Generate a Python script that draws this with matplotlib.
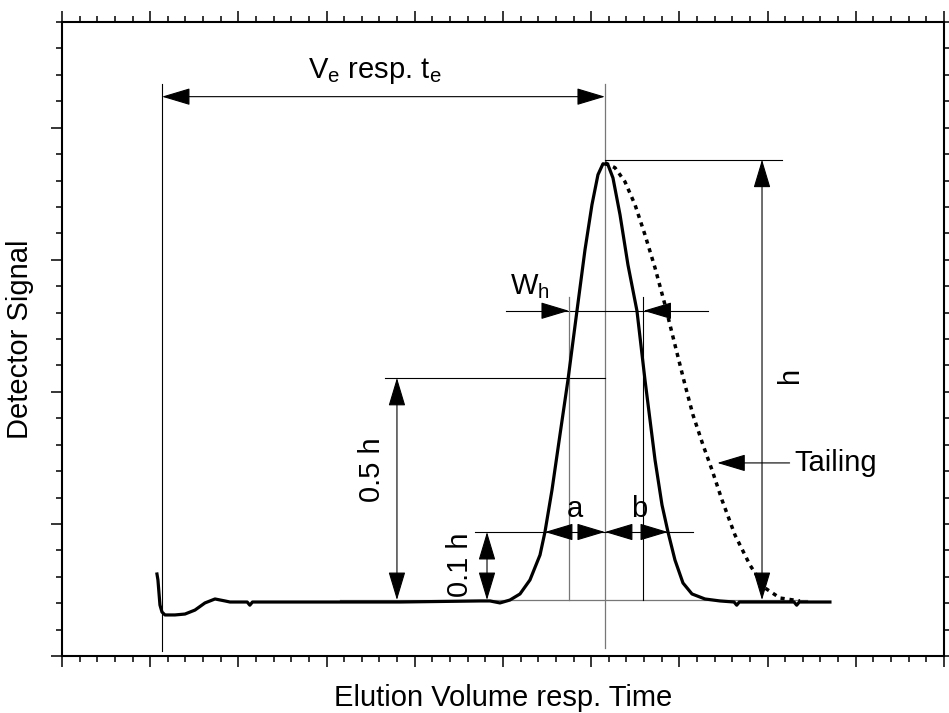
import matplotlib.pyplot as plt
from matplotlib.ticker import MultipleLocator

plt.rcParams['font.family'] = ['Liberation Sans', 'DejaVu Sans']

# measured chromatogram (solid) - x: elution volume, y: detector signal
peak_x = [1.077, 1.088, 1.111, 1.134, 1.168, 1.281, 1.395, 1.508, 1.621, 1.735,
          1.848, 1.905, 2.018, 2.10, 2.13, 2.16, 2.698, 3.832, 4.739, 4.853,
          4.966, 5.079, 5.193, 5.306, 5.420, 5.476, 5.556, 5.646, 5.737, 5.839,
          5.930, 6.009, 6.077, 6.134, 6.190, 6.247, 6.327, 6.417, 6.519, 6.610,
          6.724, 6.803, 6.871, 6.950, 7.041, 7.143, 7.290, 7.460, 7.62, 7.65,
          7.68, 7.914, 8.30, 8.33, 8.36, 8.707]
peak_y = [0.621, 0.576, 0.386, 0.333, 0.311, 0.311, 0.318, 0.348, 0.402, 0.432,
          0.417, 0.409, 0.409, 0.409, 0.385, 0.409, 0.409, 0.409, 0.417, 0.417,
          0.402, 0.424, 0.470, 0.576, 0.765, 0.939, 1.258, 1.674, 2.091, 2.614,
          3.076, 3.417, 3.644, 3.727, 3.720, 3.620, 3.341, 2.962, 2.614, 2.091,
          1.485, 1.144, 0.939, 0.727, 0.553, 0.470, 0.432, 0.417, 0.409, 0.385,
          0.409, 0.409, 0.409, 0.385, 0.409, 0.409]

# tailing peak (dotted)
tail_x = [6.156, 6.270, 6.383, 6.497, 6.610, 6.724, 6.837, 6.950, 7.064, 7.154,
          7.268, 7.370, 7.483, 7.630, 7.800, 7.971, 8.141, 8.367]
tail_y = [3.735, 3.697, 3.591, 3.417, 3.189, 2.939, 2.659, 2.356, 2.053, 1.826,
          1.598, 1.409, 1.182, 0.917, 0.689, 0.515, 0.439, 0.417]

# characteristic positions
x_start = 1.134
x_peak = 6.156
y_base = 0.424
y_top = 3.758
y_half = 2.106
y_tenth = 0.939
x_wh_left, x_wh_right = 5.748, 6.593
x_a_left, x_b_right = 5.476, 6.871

FS = 21

fig = plt.figure(figsize=(9.49, 7.13), dpi=100)
ax = fig.add_axes([0.0653, 0.0799, 0.9294, 0.8892])

thin = dict(color='black', lw=0.8)
grey = dict(color='#777777', lw=0.9)


def dim_arrow(x0, y0, x1, y1, style='<|-|>'):
    ax.annotate('', xy=(x1, y1), xytext=(x0, y0),
                arrowprops=dict(arrowstyle=f'{style},head_length=18,head_width=5.4',
                                mutation_scale=1, color='black', lw=0.8,
                                shrinkA=0, shrinkB=0))


# baseline
ax.plot([3.15, 8.45], [y_base, y_base], **grey)

# elution volume
ax.plot([x_start, x_start], [0.04, 4.33], **thin)
ax.plot([x_peak, x_peak], [0.06, 4.33], **grey)
dim_arrow(x_start, 4.235, x_peak, 4.235)
ax.text(3.55, 4.43, 'V$_\\mathregular{e}$ resp. t$_\\mathregular{e}$', fontsize=FS,
        ha='center', va='center')

# peak height
ax.plot([x_peak, 8.163], [y_top, y_top], **thin)
dim_arrow(7.937, y_base, 7.937, y_top)
ax.text(8.25, 2.13, 'h', fontsize=FS, rotation=90, ha='center', va='center')

# half height
ax.plot([3.66, x_peak], [y_half, y_half], **thin)
dim_arrow(3.798, y_base, 3.798, y_half)
ax.text(3.52, 1.41, '0.5 h', fontsize=FS, rotation=90, ha='center', va='center')

# width at half height
ax.plot([5.034, 7.324], [2.614, 2.614], **thin)
ax.plot([x_wh_left, x_wh_left], [y_base, 2.72], **grey)
ax.plot([x_wh_right, x_wh_right], [y_base, 2.72], **thin)
dim_arrow(5.46, 2.614, x_wh_left, 2.614, '-|>')
dim_arrow(6.88, 2.614, x_wh_right, 2.614, '-|>')
ax.text(5.30, 2.80, 'W$_\\mathregular{h}$', fontsize=FS, ha='center', va='center')

# 10 % height, asymmetry a / b
ax.plot([4.683, 7.154], [y_tenth, y_tenth], **thin)
dim_arrow(4.819, y_base, 4.819, y_tenth)
ax.text(4.51, 0.69, '0.1 h', fontsize=FS, rotation=90, ha='center', va='center')
dim_arrow(x_a_left + 0.29, y_tenth, x_a_left, y_tenth, '-|>')
dim_arrow(x_peak - 0.29, y_tenth, x_peak, y_tenth, '-|>')
dim_arrow(x_peak + 0.29, y_tenth, x_peak, y_tenth, '-|>')
dim_arrow(x_b_right - 0.29, y_tenth, x_b_right, y_tenth, '-|>')
ax.text(5.82, 1.11, 'a', fontsize=FS, ha='center', va='center')
ax.text(6.55, 1.11, 'b', fontsize=FS, ha='center', va='center')

# tailing
dim_arrow(8.25, 1.462, 7.43, 1.462, '-|>')
ax.text(8.30, 1.462, 'Tailing', fontsize=FS, ha='left', va='center')

# curves
ax.plot(peak_x, peak_y, color='black', lw=2.3, solid_joinstyle='round')
ax.plot(tail_x, tail_y, color='black', lw=2.5, linestyle=(0, (1.2, 1.4)))

ax.set_xlim(0, 10)
ax.set_ylim(0, 4.8)
ax.xaxis.set_major_locator(MultipleLocator(1))
ax.xaxis.set_minor_locator(MultipleLocator(0.2))
ax.yaxis.set_major_locator(MultipleLocator(1))
ax.yaxis.set_minor_locator(MultipleLocator(0.2))
ax.tick_params(which='both', direction='out', top=True, right=True,
               labelbottom=False, labelleft=False, width=1.1)
ax.tick_params(which='major', length=8)
ax.tick_params(which='minor', length=4.5)
for sp in ax.spines.values():
    sp.set_linewidth(1.5)

ax.set_xlabel('Elution Volume resp. Time', fontsize=FS, labelpad=12)
ax.set_ylabel('Detector Signal', fontsize=FS, labelpad=12)

fig.savefig('out.png', dpi=100)
